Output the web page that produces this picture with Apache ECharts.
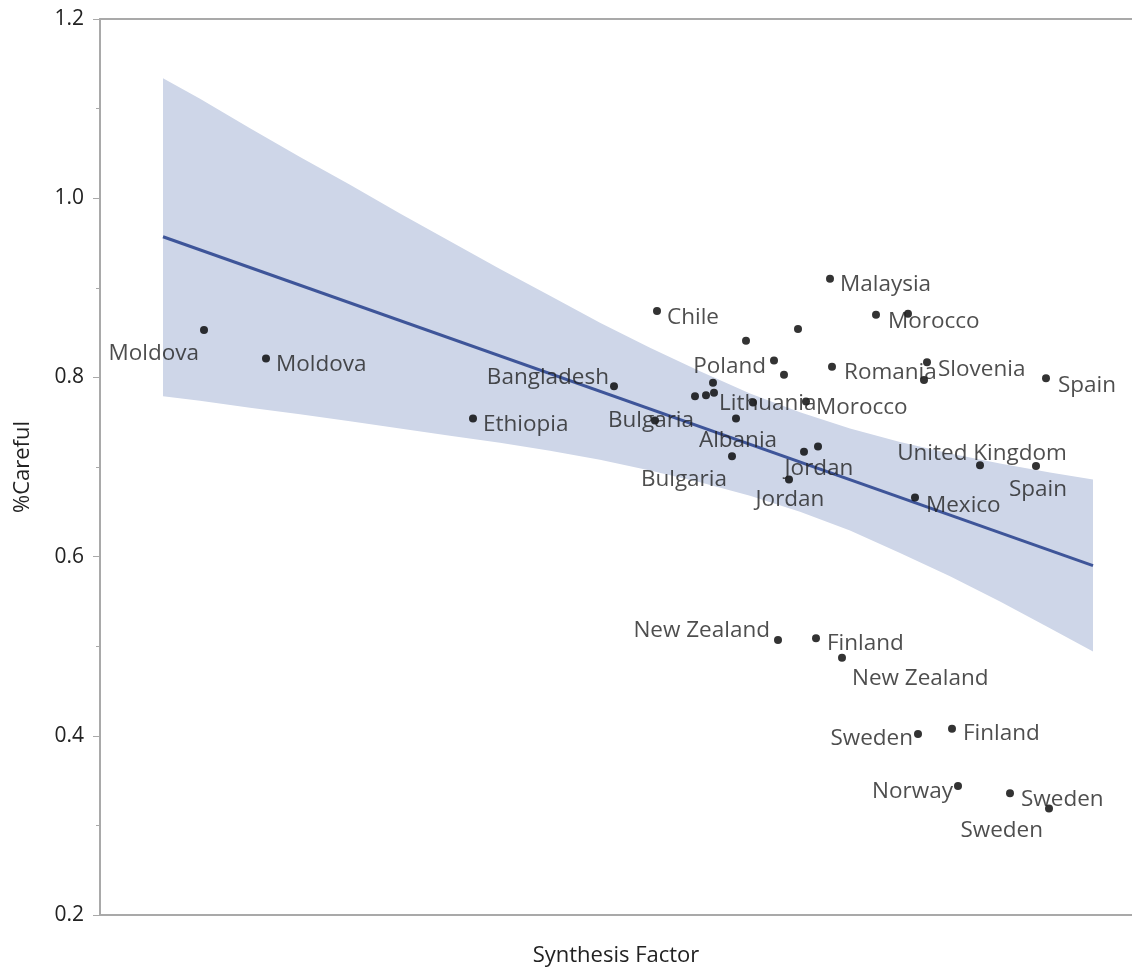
<!DOCTYPE html>
<html>
<head>
<meta charset="utf-8">
<script src="https://cdn.jsdelivr.net/npm/echarts@6/dist/echarts.min.js"></script>
<style>
  html, body { margin: 0; padding: 0; background: #ffffff; }
  #chart { width: 1132px; height: 972px; }
</style>
</head>
<body>
<div id="chart"></div>
<script>
// Country observations: synthesis factor score vs. share of "careful" answers
const countries = [
  'Moldova', 'Moldova', 'Ethiopia', 'Bangladesh', 'Bulgaria', 'Chile',
  '', '', '', 'Lithuania', 'Albania', 'Bulgaria', '', 'Poland', '', '', '',
  'Morocco', '', 'Jordan', 'Jordan', 'Malaysia', 'Romania', 'Morocco', '',
  'Slovenia', '', 'Spain', 'United Kingdom', 'Spain', 'Mexico',
  'New Zealand', 'Finland', 'New Zealand', 'Sweden', 'Finland', 'Norway',
  'Sweden', 'Sweden'
];
const synthesis = [
  -2.48, -2.17, -1.135, -0.43, -0.225, -0.215,
  -0.025, 0.03, 0.065, 0.07, 0.18, 0.16, 0.23, 0.37, 0.42, 0.49, 0.265,
  0.53, 0.52, 0.59, 0.445, 0.65, 0.66, 0.88, 1.04,
  1.135, 1.12, 1.73, 1.40, 1.68, 1.075,
  0.39, 0.58, 0.71, 1.09, 1.26, 1.29,
  1.55, 1.745
];
const careful = [
  0.853, 0.821, 0.754, 0.790, 0.752, 0.874,
  0.779, 0.780, 0.794, 0.783, 0.754, 0.712, 0.841, 0.819, 0.803, 0.854, 0.772,
  0.773, 0.717, 0.723, 0.686, 0.910, 0.812, 0.870, 0.871,
  0.817, 0.797, 0.799, 0.702, 0.701, 0.666,
  0.507, 0.509, 0.487, 0.402, 0.408, 0.344,
  0.336, 0.319
];

// Fitted line end points
const fitX = [-2.685, 1.965];
const fitY = [0.957, 0.590];

// Confidence band of the fit, upper and lower edges
const bandX = [-2.685, -2.5, -2.25, -2.0, -1.75, -1.5, -1.25, -1.0, -0.75, -0.5,
  -0.25, 0.0, 0.25, 0.5, 0.75, 1.0, 1.25, 1.5, 1.75, 1.965];
const bandUpper = [1.134, 1.111, 1.078, 1.046, 1.015, 0.983, 0.952, 0.921, 0.891, 0.861,
  0.833, 0.807, 0.782, 0.761, 0.743, 0.728, 0.715, 0.704, 0.694, 0.686];
const bandLower = [0.779, 0.774, 0.766, 0.759, 0.751, 0.743, 0.735, 0.727, 0.718, 0.708,
  0.696, 0.683, 0.668, 0.650, 0.629, 0.604, 0.578, 0.550, 0.520, 0.494];

// Y axis ticks
const yTicks = [0.2, 0.4, 0.6, 0.8, 1.0, 1.2];

// Label placement per point: [side, dx, dy] (dx, dy nudge the text from its side anchor)
const labelPlacement = [
  ['left', 5, 22], ['right', 0, 4], ['right', 0, 4], ['left', 5, -11], ['center', -4, -2], ['right', 0, 4],
  null, null, null, ['right', -5, 9], ['center', 2, 20], ['left', 5, 21], null, ['left', 2, 4], null, null, null,
  ['right', 0, 4], null, ['center', 1, 20], ['center', 1, 18], ['right', 0, 4], ['right', 2, 4], ['right', 2, 5], null,
  ['right', 1, 5], null, ['right', 2, 5], ['center', 2, -14], ['center', 2, 21], ['right', 1, 6],
  ['left', 2, -11], ['right', 1, 3], ['right', 0, 19], ['left', 5, 3], ['right', 1, 3], ['left', 5, 4],
  ['right', 1, 4], ['left', 4, 20]
];

const TEXT = '#222222';
const AXIS = '#a9a9a9';
const FONT = '"Open Sans", "Noto Sans", sans-serif';
const DOT = 8;
const GAP = 6;

function labelFor(p) {
  const half = DOT / 2;
  let x = half + p[1];
  let align = 'center';
  if (p[0] === 'right') { x = DOT + GAP + p[1]; align = 'left'; }
  if (p[0] === 'left') { x = -GAP + p[1]; align = 'right'; }
  return {
    show: true,
    position: [x, half + p[2] + 2],
    align: align,
    verticalAlign: 'middle',
    formatter: '{b}',
    color: TEXT,
    fontSize: 22.5,
    fontFamily: FONT
  };
}

const points = countries.map(function (name, i) {
  const p = labelPlacement[i];
  return {
    name: name,
    value: [synthesis[i], careful[i]],
    label: p ? labelFor(p) : { show: false }
  };
});

const chart = echarts.init(document.getElementById('chart'), null, { renderer: 'canvas', width: 1132, height: 972 });

const axisLine = { show: true, onZero: false, lineStyle: { color: AXIS, width: 2 } };

chart.setOption({
  animation: false,
  backgroundColor: '#ffffff',
  grid: { left: 100, top: 19, width: 1032, height: 900, show: false },
  xAxis: [
    {
      type: 'value', min: -3, max: 2.16, position: 'bottom',
      name: 'Synthesis Factor', nameLocation: 'middle', nameGap: 30,
      nameTextStyle: { color: TEXT, fontSize: 22, fontFamily: FONT },
      axisLine: axisLine,
      axisTick: { show: false }, axisLabel: { show: false }, splitLine: { show: false }
    },
    {
      type: 'value', min: -3, max: 2.16, position: 'top',
      axisLine: axisLine,
      axisTick: { show: false }, axisLabel: { show: false }, splitLine: { show: false }
    }
  ],
  yAxis: {
    type: 'value', min: yTicks[0], max: yTicks[yTicks.length - 1], interval: 0.2,
    name: '%Careful', nameLocation: 'middle', nameGap: 66, nameRotate: 90,
    nameTextStyle: { color: TEXT, fontSize: 22, fontFamily: FONT },
    axisLine: axisLine,
    axisTick: { show: true, length: 7, lineStyle: { color: AXIS, width: 1 } },
    minorTick: { show: true, splitNumber: 2, length: 4, lineStyle: { color: AXIS, width: 1 } },
    axisLabel: {
      margin: 16, color: TEXT, fontSize: 21, fontFamily: FONT,
      formatter: function (v) { return v.toFixed(1); }
    },
    splitLine: { show: false }, minorSplitLine: { show: false }
  },
  series: [
    {
      type: 'custom',
      z: 1,
      silent: true,
      data: [[0]],
      renderItem: function (params, api) {
        const pts = [];
        for (let i = 0; i < bandX.length; i++) pts.push(api.coord([bandX[i], bandUpper[i]]));
        for (let i = bandX.length - 1; i >= 0; i--) pts.push(api.coord([bandX[i], bandLower[i]]));
        return {
          type: 'polygon',
          shape: { points: pts },
          style: { fill: '#ced6e8', stroke: null }
        };
      }
    },
    {
      type: 'line',
      z: 2,
      silent: true,
      data: fitX.map(function (x, i) { return [x, fitY[i]]; }),
      showSymbol: false,
      lineStyle: { color: '#3e5599', width: 3 }
    },
    {
      type: 'scatter',
      z: 3,
      symbol: 'circle',
      symbolSize: DOT,
      itemStyle: { color: '#000000' },
      labelLayout: { hideOverlap: false },
      data: points
    }
  ]
});
</script>
</body>
</html>
